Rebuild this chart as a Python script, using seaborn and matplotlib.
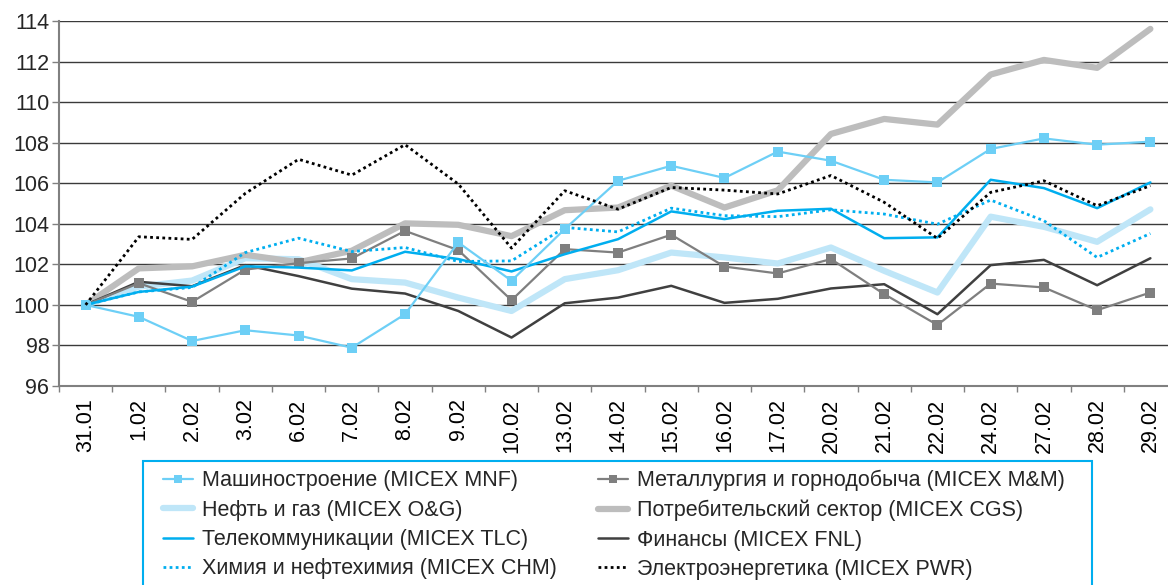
import matplotlib
matplotlib.use("Agg")
import matplotlib.pyplot as plt
from matplotlib.patches import Rectangle
from matplotlib.ticker import FixedLocator
import seaborn as sns

dates = ["31.01", "1.02", "2.02", "3.02", "6.02", "7.02", "8.02", "9.02", "10.02",
         "13.02", "14.02", "15.02", "16.02", "17.02", "20.02", "21.02", "22.02",
         "24.02", "27.02", "28.02", "29.02"]

mnf = [100, 99.41, 98.22, 98.75, 98.49, 97.89, 99.54, 103.08, 101.19, 103.74, 106.12,
       106.86, 106.26, 107.56, 107.11, 106.17, 106.04, 107.69, 108.21, 107.90, 108.05]
mm = [100, 101.07, 100.15, 101.74, 102.06, 102.29, 103.65, 102.70, 100.23, 102.75, 102.58,
      103.46, 101.89, 101.55, 102.26, 100.53, 99.01, 101.05, 100.86, 99.74, 100.61]
og = [100, 100.9, 101.2, 102.3, 102.25, 101.27, 101.1, 100.36, 99.7, 101.27, 101.71,
      102.58, 102.34, 102.04, 102.83, 101.68, 100.61, 104.35, 103.85, 103.11, 104.71]
cgs = [100, 101.8, 101.9, 102.47, 102.1, 102.67, 104.02, 103.95, 103.39, 104.67, 104.8,
       105.88, 104.8, 105.65, 108.43, 109.17, 108.89, 111.36, 112.08, 111.69, 113.61]
tlc = [100, 100.64, 100.9, 101.9, 101.84, 101.7, 102.62, 102.26, 101.65, 102.5, 103.24,
       104.61, 104.23, 104.64, 104.74, 103.29, 103.33, 106.17, 105.76, 104.77, 106.04]
fnl = [100, 101.14, 100.92, 101.96, 101.42, 100.8, 100.56, 99.7, 98.39, 100.08, 100.36,
       100.94, 100.1, 100.3, 100.81, 101.02, 99.54, 101.96, 102.22, 100.97, 102.3]
chm = [100, 100.64, 100.86, 102.58, 103.29, 102.63, 102.83, 102.14, 102.17, 103.82, 103.6,
       104.77, 104.4, 104.35, 104.69, 104.48, 103.98, 105.17, 104.15, 102.34, 103.52]
pwr = [100, 103.36, 103.23, 105.5, 107.18, 106.4, 107.9, 105.96, 102.8, 105.63, 104.72,
       105.79, 105.66, 105.47, 106.38, 105.06, 103.28, 105.55, 106.12, 104.89, 105.88]

yticks = list(range(96, 115, 2))

sns.set_style("white")
plt.rcParams["font.family"] = ["Liberation Sans", "DejaVu Sans"]

W, H = 1168, 585
fig = plt.figure(figsize=(W / 100, H / 100), dpi=100)
ax = fig.add_axes([59 / W, 1 - 386 / H, (1177 - 59) / W, (386 - 21) / H])

x = list(range(len(dates)))

# порядок отрисовки: толстые линии снизу
series = [
    ("og", og, "Нефть и газ (MICEX O&G)", dict(color="#bfe6f8", lw=4.5)),
    ("cgs", cgs, "Потребительский сектор (MICEX CGS)", dict(color="#bdbdbd", lw=4.5)),
    ("fnl", fnl, "Финансы (MICEX FNL)", dict(color="#404040", lw=1.8)),
    ("mm", mm, "Металлургия и горнодобыча (MICEX M&M)",
     dict(color="#7f7f7f", lw=1.6, marker="s", markersize=7.5, markeredgewidth=0)),
    ("tlc", tlc, "Телекоммуникации (MICEX TLC)", dict(color="#00aeef", lw=1.8)),
    ("chm", chm, "Химия и нефтехимия (MICEX CHM)",
     dict(color="#00aeef", lw=2, linestyle=(0, (1, 1.2)))),
    ("mnf", mnf, "Машиностроение (MICEX MNF)",
     dict(color="#6dcff6", lw=1.6, marker="s", markersize=7.5, markeredgewidth=0)),
    ("pwr", pwr, "Электроэнергетика (MICEX PWR)",
     dict(color="#000000", lw=2, linestyle=(0, (1, 1.2)))),
]

handles = {}
for key, vals, label, kw in series:
    sns.lineplot(x=x, y=vals, ax=ax, label=label, sort=False, **kw)
    handles[key] = ax.get_lines()[-1]
if ax.get_legend():
    ax.get_legend().remove()

ax.set_xlim(-0.5, len(dates) - 0.5)
ax.set_ylim(96, 114)
ax.set_yticks(yticks)
ax.set_yticklabels([str(v) for v in yticks])
ax.grid(axis="y", color="#3a3a3a", lw=1)
ax.grid(axis="x", visible=False)
ax.set_axisbelow(True)

ax.set_xticks(x)
ax.set_xticklabels(dates, rotation=90)
ax.xaxis.set_minor_locator(FixedLocator([i + 0.5 for i in range(-1, len(dates))]))
ax.tick_params(axis="x", which="major", length=0, pad=9, labelsize=15.5, colors="black")
ax.tick_params(axis="x", which="minor", bottom=True, length=4, width=1, color="#808080",
               direction="out")
ax.tick_params(axis="y", left=True, length=5, width=1, color="#808080", pad=2,
               labelsize=15.5, direction="out")

for s in ["top", "right"]:
    ax.spines[s].set_visible(False)
for s in ["left", "bottom"]:
    ax.spines[s].set_color("#808080")
    ax.spines[s].set_linewidth(1.5)

# рамка легенды (нижний край обрезан краем рисунка)
fig.patches.append(Rectangle((143 / W, -0.05), (1092 - 143) / W, 1 - 460.5 / H + 0.05,
                             transform=fig.transFigure, fill=False,
                             edgecolor="#00aeef", lw=1.5))

order = ["mnf", "og", "tlc", "chm", "mm", "cgs", "fnl", "pwr"]
labels = {key: label for key, _, label, _ in series}
fig.legend([handles[k] for k in order], [labels[k] for k in order],
           loc="upper left", bbox_to_anchor=(163 / W, 1 - 470 / H),
           ncol=2, frameon=False, fontsize=15.5, handlelength=1.4,
           handletextpad=0.42, columnspacing=1.9, labelspacing=0.39,
           borderpad=0, borderaxespad=0, markerscale=0.8)

fig.savefig("out.png", dpi=100)
